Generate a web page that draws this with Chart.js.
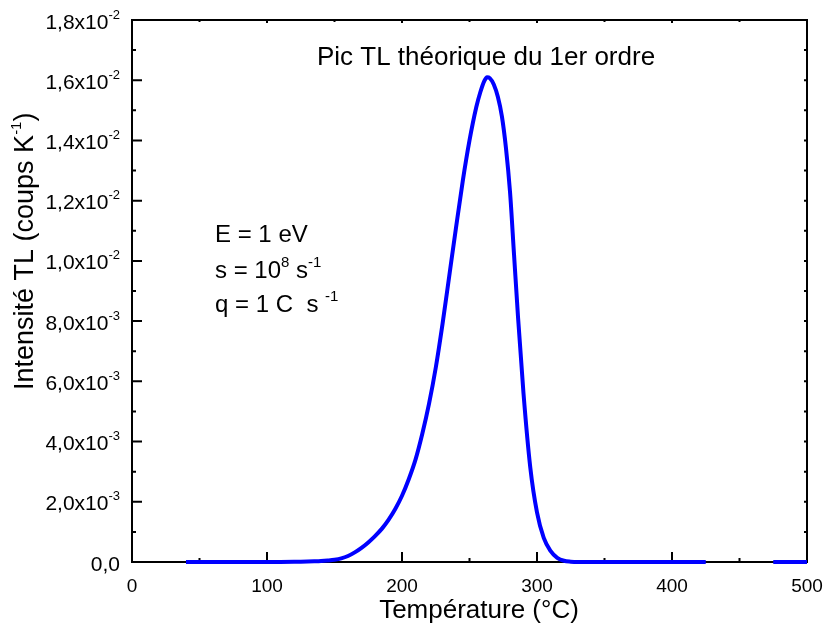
<!DOCTYPE html>
<html>
<head>
<meta charset="utf-8">
<script src="https://cdn.jsdelivr.net/npm/chart.js@4.4.0/dist/chart.umd.min.js"></script>
<style>
  html, body { margin: 0; padding: 0; background: #fff; }
  #wrap { width: 826px; height: 628px; }
</style>
</head>
<body>
<div id="wrap"><canvas id="graph" width="826" height="628"></canvas></div>
<script>
// Température (°C) et intensité TL
const temperatures = [40, 80, 100, 110, 120, 125, 130, 135, 140, 145, 150, 155, 160, 165, 170, 175,
  180, 185, 190, 195, 200, 205, 210, 215, 220, 225, 230, 235, 240, 245, 250, 255, 258, 261, 263,
  265, 268, 271, 274, 277, 280, 283, 286, 290, 295, 300, 305, 310, 315, 320, 325, 330, 350, 400, 425, 450,
  475, 500];
const intensities = [0, 0, 0, 0.002e-3, 0.006e-3, 0.01e-3, 0.015e-3, 0.022e-3, 0.032e-3, 0.05e-3,
  0.075e-3, 0.12e-3, 0.2e-3, 0.32e-3, 0.47e-3, 0.65e-3,
  0.86e-3, 1.1e-3, 1.4e-3, 1.76e-3, 2.2e-3, 2.75e-3, 3.4e-3, 4.25e-3, 5.25e-3, 6.45e-3, 7.9e-3,
  9.5e-3, 11.1e-3, 12.65e-3, 14.0e-3, 15.1e-3, 15.6e-3, 15.98e-3, 16.1e-3,
  16.07e-3, 15.86e-3, 15.45e-3, 14.8e-3, 13.75e-3, 12.3e-3, 10.2e-3, 8.1e-3, 5.6e-3, 3.15e-3, 1.65e-3,
  0.8e-3, 0.37e-3, 0.14e-3, 0.04e-3, 0.01e-3, 0, 0, 0, 0, null,
  0, 0];

const xTicks = [0, 100, 200, 300, 400, 500];
const xMinorTicks = [50, 150, 250, 350, 450];
const yTicks = [0, 2e-3, 4e-3, 6e-3, 8e-3, 10e-3, 12e-3, 14e-3, 16e-3, 18e-3];
const yTickMantissas = ['0,0', '2,0x10', '4,0x10', '6,0x10', '8,0x10', '1,0x10', '1,2x10', '1,4x10', '1,6x10', '1,8x10'];
const yTickExponents = ['', '-3', '-3', '-3', '-3', '-2', '-2', '-2', '-2', '-2'];
const yMinorTicks = [1e-3, 3e-3, 5e-3, 7e-3, 9e-3, 11e-3, 13e-3, 15e-3, 17e-3];

const FONT = '"Liberation Sans", Arial, sans-serif';

// dessine un texte avec exposants : parts = [[texte, estExposant], ...]
function drawParts(ctx, parts, x, y, size, supSize, rise) {
  let cx = x;
  for (const [t, sup] of parts) {
    ctx.font = (sup ? supSize : size) + 'px ' + FONT;
    ctx.fillText(t, cx, sup ? y - rise : y);
    cx += ctx.measureText(t).width;
  }
  return cx - x;
}
function partsWidth(ctx, parts, size, supSize) {
  let w = 0;
  for (const [t, sup] of parts) {
    ctx.font = (sup ? supSize : size) + 'px ' + FONT;
    w += ctx.measureText(t).width;
  }
  return w;
}

const decor = {
  id: 'decor',
  beforeDatasetsDraw(chart) {
    const { ctx, chartArea: a, scales: { x, y } } = chart;
    ctx.save();
    ctx.strokeStyle = '#000';
    ctx.lineWidth = 2;
    ctx.strokeRect(a.left, a.top, a.right - a.left, a.bottom - a.top);

    ctx.beginPath();
    // graduations x
    xTicks.forEach(v => {
      const px = x.getPixelForValue(v);
      ctx.moveTo(px, a.bottom); ctx.lineTo(px, a.bottom - 10);
      ctx.moveTo(px, a.top); ctx.lineTo(px, a.top + 3);
    });
    xMinorTicks.forEach(v => {
      const px = x.getPixelForValue(v);
      ctx.moveTo(px, a.bottom); ctx.lineTo(px, a.bottom - 4);
      ctx.moveTo(px, a.top); ctx.lineTo(px, a.top + 2);
    });
    // graduations y
    yTicks.forEach(v => {
      const py = y.getPixelForValue(v);
      ctx.moveTo(a.left, py); ctx.lineTo(a.left + 10, py);
      ctx.moveTo(a.right, py); ctx.lineTo(a.right - 3, py);
    });
    yMinorTicks.forEach(v => {
      const py = y.getPixelForValue(v);
      ctx.moveTo(a.left, py); ctx.lineTo(a.left + 4, py);
      ctx.moveTo(a.right, py); ctx.lineTo(a.right - 3, py);
    });
    ctx.stroke();
    ctx.restore();
  },
  afterDraw(chart) {
    const { ctx, chartArea: a, scales: { x, y } } = chart;
    ctx.save();
    ctx.fillStyle = '#000';
    ctx.textBaseline = 'alphabetic';

    // étiquettes x
    ctx.textAlign = 'center';
    ctx.font = '19px ' + FONT;
    xTicks.forEach(v => ctx.fillText(String(v), x.getPixelForValue(v), 592));

    // étiquettes y
    ctx.textAlign = 'left';
    yTicks.forEach((v, i) => {
      const parts = [[yTickMantissas[i], false], [yTickExponents[i], true]];
      const w = partsWidth(ctx, parts, 21, 13);
      drawParts(ctx, parts, 120 - w, y.getPixelForValue(v) + 8.5, 21, 13, 10);
    });

    // titre
    ctx.textAlign = 'center';
    ctx.font = '26px ' + FONT;
    ctx.fillText('Pic TL théorique du 1er ordre', 486, 65);

    // titre axe x
    ctx.font = '26px ' + FONT;
    ctx.fillText('Température (°C)', 479, 618);

    // titre axe y
    ctx.save();
    ctx.translate(33, 390);
    ctx.rotate(-Math.PI / 2);
    ctx.textAlign = 'left';
    drawParts(ctx, [['Intensité TL (coups K', false], ['-1', true], [')', false]], 0, 0, 27, 15, 12);
    ctx.restore();

    // paramètres
    ctx.textAlign = 'left';
    drawParts(ctx, [['E = 1 eV', false]], 215, 242, 24, 15, 11);
    drawParts(ctx, [['s = 10', false], ['8', true], [' s', false], ['-1', true]], 215, 278, 24, 15, 11);
    drawParts(ctx, [['q = 1 C  s ', false], ['-1', true]], 215, 312, 24, 15, 11);
    ctx.restore();
  }
};

new Chart(document.getElementById('graph'), {
  type: 'line',
  data: {
    datasets: [{
      data: temperatures.map((t, i) => ({ x: t, y: intensities[i] })),
      borderColor: '#0000ff',
      borderWidth: 4,
      pointRadius: 0,
      cubicInterpolationMode: 'monotone',
      spanGaps: false,
      clip: false
    }]
  },
  options: {
    responsive: false,
    animation: false,
    layout: { padding: { left: 132, top: 20, right: 19, bottom: 66 } },
    scales: {
      x: { type: 'linear', display: false, min: 0, max: 500 },
      y: { type: 'linear', display: false, min: 0, max: 0.018 }
    },
    plugins: { legend: { display: false }, tooltip: { enabled: false } }
  },
  plugins: [decor]
});
</script>
</body>
</html>
